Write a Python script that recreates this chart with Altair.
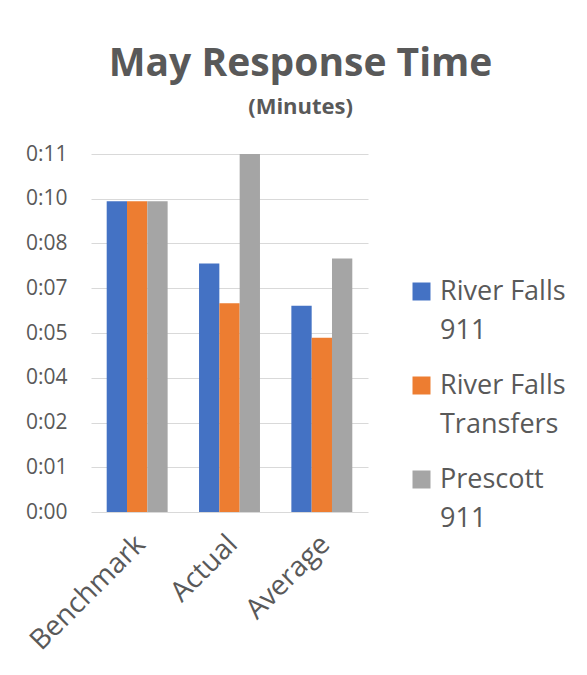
import json
import altair as alt
import pandas as pd

# ---- data ----
categories = ["Benchmark", "Actual", "Average"]
series = ["River Falls 911", "River Falls Transfers", "Prescott 911"]
river_falls_911 = [10.0, 8.0, 6.64]
river_falls_transfers = [10.0, 6.72, 5.61]
prescott_911 = [10.0, 11.52, 8.16]
tick_values = [0, 1.44, 2.88, 4.32, 5.76, 7.2, 8.64, 10.08, 11.52]
tick_labels = ["0:00", "0:01", "0:02", "0:04", "0:05", "0:07", "0:08", "0:10", "0:11"]
colors = ["#4472C4", "#ED7D31", "#A5A5A5"]

FONT = "Open Sans"
TEXT = "#595959"

rows = []
for s, vals in zip(series, [river_falls_911, river_falls_transfers, prescott_911]):
    for c, v in zip(categories, vals):
        rows.append({"category": c, "series": s, "minutes": v})
df = pd.DataFrame(rows)

y_label_expr = f"{json.dumps(tick_labels)}[indexof({json.dumps(tick_values)}, datum.value)]"
first_line = "slice(datum.label, 0, lastindexof(datum.label, ' '))"
second_line = "slice(datum.label, lastindexof(datum.label, ' ') + 1)"

LEG_X = 317
LEG_Y = 124
LINE_GAP = 39
ROW_PAD = 66


def legend(label_expr, y, opacity):
    return alt.Legend(
        title=None, orient="none", legendX=LEG_X, legendY=y, padding=0,
        symbolType="square", symbolSize=324, symbolStrokeWidth=0, symbolOpacity=opacity,
        labelFontSize=27, labelColor=TEXT, labelFont=FONT, labelLimit=300,
        labelOffset=5, rowPadding=ROW_PAD, labelExpr=label_expr, labelBaseline="middle",
    )


x_enc = alt.X(
    "category:N", sort=categories, title=None,
    scale=alt.Scale(paddingInner=0.34, paddingOuter=0.17),
    axis=alt.Axis(labelAngle=-45, labelFontSize=28, labelColor=TEXT, labelFont=FONT,
                  domain=False, ticks=False, labelPadding=18, labelOffset=-6),
)
xoff_enc = alt.XOffset("series:N", sort=series, scale=alt.Scale(paddingInner=0, paddingOuter=0))
y_enc = alt.Y(
    "minutes:Q", title=None,
    scale=alt.Scale(domain=[0, 11.52], nice=False),
    axis=alt.Axis(values=tick_values, labelExpr=y_label_expr, grid=True, gridColor="#D9D9D9",
                  gridWidth=1.2, domain=False, ticks=False, labelPadding=24, labelFontSize=21,
                  labelColor=TEXT, labelFont=FONT),
)

bars = alt.Chart(df).mark_bar().encode(
    x=x_enc, xOffset=xoff_enc, y=y_enc,
    color=alt.Color("series:N", sort=series, scale=alt.Scale(domain=series, range=colors),
                    legend=legend(first_line, LEG_Y, 1)),
)

# second line of each legend entry (same series, symbols hidden)
bars_second = alt.Chart(df).mark_bar(opacity=0).encode(
    x=x_enc, xOffset=xoff_enc, y=y_enc,
    color=alt.Color("series:N", sort=series, scale=alt.Scale(domain=series, range=colors),
                    legend=legend(second_line, LEG_Y + LINE_GAP, 0)),
)

chart = alt.layer(bars, bars_second).resolve_scale(color="independent").properties(
    width=277, height=358,
    autosize=alt.AutoSizeParams(type="none"),
    padding={"left": 83, "top": 146, "right": 200, "bottom": 150},
    title=alt.TitleParams(
        "May Response Time", subtitle="(Minutes)", anchor="middle", frame="bounds",
        fontSize=39, font=FONT, fontWeight="bold", color=TEXT,
        subtitleFontSize=22, subtitleFont=FONT, subtitleFontWeight="bold", subtitleColor=TEXT,
        offset=25, subtitlePadding=13, dx=5,
    ),
).configure_view(stroke=None)

chart.save("out.html", embed_options={"renderer": "svg", "actions": False})
